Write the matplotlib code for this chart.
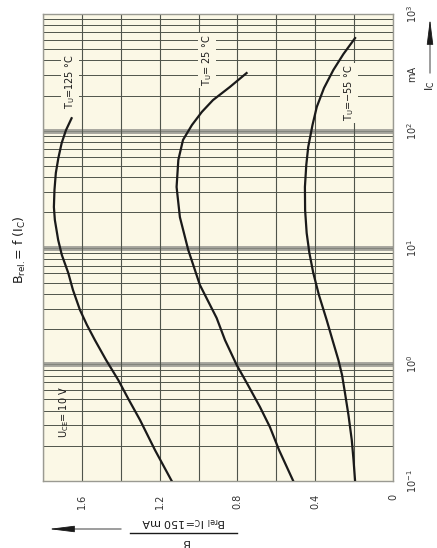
"""
Relative DC current gain vs. collector current (datasheet style, rotated 90 deg).
Saves out.png.
"""
import matplotlib
matplotlib.use("Agg")
import matplotlib.pyplot as plt
from matplotlib.lines import Line2D
from matplotlib.patches import Rectangle, FancyArrowPatch
from matplotlib.ticker import LogLocator, NullFormatter, MultipleLocator

# collector current in mA (vertical, log) and relative gain (horizontal, reversed)
ic_125 = [0.1, 0.184, 0.333, 0.494, 0.733, 1.09, 1.61, 2.17, 2.92, 4.33, 6.05,
          8.62, 11.6, 17.2, 22.2, 31.1, 43.5, 58.4, 78.5, 101, 128]
b_125 = [1.138, 1.224, 1.301, 1.358, 1.413, 1.476, 1.533, 1.574, 1.610, 1.646, 1.670,
         1.703, 1.722, 1.739, 1.744, 1.741, 1.734, 1.721, 1.704, 1.682, 1.653]

ic_25 = [0.1, 0.184, 0.29, 0.43, 0.664, 0.986, 1.61, 2.49, 4.77, 9.52, 18.2,
         33.0, 56.2, 83.4, 112, 145, 183, 237, 312]
b_25 = [0.513, 0.586, 0.633, 0.684, 0.746, 0.804, 0.864, 0.907, 0.993, 1.053, 1.096,
        1.113, 1.104, 1.080, 1.034, 0.983, 0.926, 0.839, 0.753]

ic_m55 = [0.1, 0.151, 0.224, 0.367, 0.568, 0.809, 1.09, 1.61, 2.39, 3.92, 6.05, 8.97,
          13.3, 20.9, 33.0, 50.9, 72.6, 112, 160, 232, 331, 454, 622]
b_m55 = [0.195, 0.203, 0.212, 0.229, 0.247, 0.262, 0.281, 0.311, 0.341, 0.381, 0.410, 0.430,
         0.444, 0.452, 0.453, 0.446, 0.436, 0.414, 0.392, 0.355, 0.307, 0.255, 0.195]

b_ticks = [0, 0.4, 0.8, 1.2, 1.6]
b_labels = ["0", "0.4", "0.8", "1.2", "1.6"]
ic_ticks = [0.1, 1, 10, 100, 1000]
ic_labels = ["10$^{-1}$", "10$^{0}$", "10$^{1}$", "10$^{2}$", "10$^{3}$"]

BG = "#fbf8e6"
GRID = "#4f544b"
INK = "#1a1a1a"

W, H = 437, 548
fig = plt.figure(figsize=(W / 100, H / 100), dpi=100)
ax = fig.add_axes([43 / W, 67 / H, 350 / W, 467 / H])
ax.set_facecolor(BG)

ax.set_xlim(1.8, 0)
ax.set_yscale("log")
ax.set_ylim(0.1, 1000)

ax.set_xticks(b_ticks, labels=b_labels, rotation=90, fontsize=7, color="#333333")
ax.xaxis.set_minor_locator(MultipleLocator(0.2))
ax.grid(True, axis="x", which="both", color=GRID, lw=0.8)
ax.tick_params(axis="x", which="both", length=0, pad=9)

ax.yaxis.tick_right()
ax.set_yticks(ic_ticks, labels=ic_labels, rotation=90, fontsize=7, color="#333333", va="center")
ax.yaxis.set_minor_locator(LogLocator(base=10, subs=range(2, 10)))
ax.yaxis.set_minor_formatter(NullFormatter())
ax.grid(True, axis="y", which="minor", color=GRID, lw=0.7)
ax.tick_params(axis="y", which="both", length=0, pad=9)

# grey bands at the inner decades, like the printed log paper
for d in ic_ticks[1:-1]:
    ax.axhline(d, color="#a4a49c", lw=3.5, zorder=1.2)
    ax.axhline(d, color="#7d7f77", lw=0.6, zorder=1.25)

for s in ax.spines.values():
    s.set_color("#9a9a92")
    s.set_linewidth(1.0)

# clear area behind the U_CE note
ax.add_patch(Rectangle((1 / 350, 40 / 467), 36 / 350, 69 / 467,
                       transform=ax.transAxes, facecolor=BG, edgecolor="none", zorder=1.5))

ax.plot(b_125, ic_125, color=INK, lw=1.6, zorder=3)
ax.plot(b_25, ic_25, color=INK, lw=1.6, zorder=3)
ax.plot(b_m55, ic_m55, color=INK, lw=1.6, zorder=3)

box = dict(facecolor=BG, edgecolor="none", pad=1.5)
ax.text(1.66, 260, "T$_{\\rm U}$=125 °C", rotation=90, fontsize=7, ha="center", va="center",
        color=INK, bbox=box, zorder=2)
ax.text(0.955, 400, "T$_{\\rm U}$= 25 °C", rotation=90, fontsize=7, ha="center", va="center",
        color=INK, bbox=box, zorder=2)
ax.text(0.225, 210, "T$_{\\rm U}$=−55 °C", rotation=90, fontsize=7, ha="center", va="center",
        color=INK, bbox=box, zorder=2)
ax.text(1.69, 0.39, "U$_{\\rm CE}$= 10 V", rotation=90, fontsize=7, ha="center", va="center",
        color=INK, zorder=2)

# title, written sideways at the left
fig.text(20 / W, 1 - 250 / H, "B$_{\\rm rel.}$= f (I$_{\\rm C}$)", rotation=90, fontsize=9,
         ha="center", va="center", color=INK)

# Ic axis label with arrow (top right)
fig.text(430 / W, 1 - 86 / H, "I$_{\\rm C}$", rotation=90, fontsize=8, ha="center", va="center", color=INK)
fig.text(412 / W, 1 - 74 / H, "mA", rotation=90, fontsize=7, ha="center", va="center", color="#333333")
fig.patches.append(FancyArrowPatch(
    (430 / W, 1 - 76 / H), (430 / W, 1 - 16 / H), transform=fig.transFigure,
    arrowstyle="-|>,head_length=1.6,head_width=0.2", mutation_scale=10,
    color=INK, lw=0.6))

# B axis label: upside-down fraction with arrow (bottom left)
fig.text(183 / W, 1 - 522 / H, "B$_{\\rm rel}$ I$_{\\rm C}$=150 mA", rotation=180, fontsize=8,
         ha="center", va="center", color=INK)
fig.add_artist(Line2D([130 / W, 237 / W], [1 - 533 / H, 1 - 533 / H],
                      transform=fig.transFigure, color=INK, lw=1.0))
fig.text(185 / W, 1 - 542 / H, "B", rotation=180, fontsize=8, ha="center", va="center", color=INK)
fig.patches.append(FancyArrowPatch(
    (124 / W, 1 - 529 / H), (46 / W, 1 - 529 / H), transform=fig.transFigure,
    arrowstyle="-|>,head_length=1.6,head_width=0.2", mutation_scale=10,
    color=INK, lw=0.6))

fig.savefig("out.png", dpi=100, facecolor="white")
plt.close(fig)
